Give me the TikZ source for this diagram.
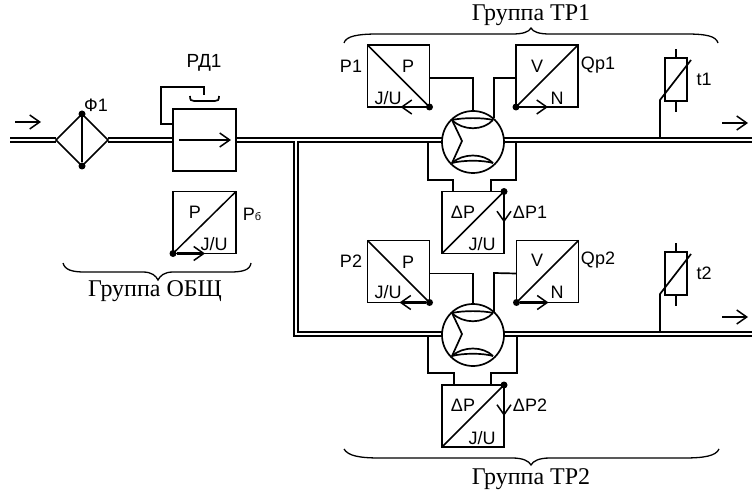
\documentclass[tikz,border=0pt]{standalone}
\usepackage{fontspec}
\setmainfont{Liberation Sans}
\newfontfamily\serifcyr{Liberation Serif}
\usetikzlibrary{arrows.meta,shapes.geometric,calc}
\tikzset{
 wire/.style={line width=1.7pt,line join=miter},
 pipe/.style={line width=2pt},
 unitbox/.style={draw,line width=1.7pt,minimum width=62pt,minimum height=62pt,inner sep=0pt,outer sep=0pt},
 diag/.style={line width=1.5pt},
 dotmark/.style={circle,fill=black,draw=none,minimum size=7pt,inner sep=0pt,outer sep=0pt},
 outarrow/.style={line width=2.2pt,-{Straight Barb[length=10pt,width=14pt,line width=1.5pt]}},
 flow/.style={line width=1.5pt,-{Straight Barb[length=10pt,width=14pt]}},
 lbl/.style={font=\fontsize{18}{18}\selectfont,inner sep=0pt,outer sep=0pt},
 grouplbl/.style={font=\serifcyr\fontsize{24}{24}\selectfont,inner sep=0pt,outer sep=0pt},
 brace/.style={line width=1.3pt},
 pumpc/.style={circle,draw,line width=1.7pt,minimum size=62pt,inner sep=0pt,outer sep=0pt},
 thermo/.style={draw,line width=1.7pt,minimum width=22pt,minimum height=43pt,inner sep=0pt,outer sep=0pt},
}
\newcommand{\pumpinner}[1]{%
 \draw[wire] ($(#1)+(-21,-22)$) -- ($(#1)+(-11,-1)$) -- ($(#1)+(-21,21)$);
 \draw[wire] ($(#1)+(-21,-22)$) .. controls ($(#1)+(-10,-24.5)$) and ($(#1)+(10,-24.5)$) .. ($(#1)+(20,-22)$);
 \draw[wire] ($(#1)+(-21,-22)$) .. controls ($(#1)+(-10,-11)$) and ($(#1)+(10,-11)$) .. ($(#1)+(20,-22)$);
 \draw[wire] ($(#1)+(-21,21)$) .. controls ($(#1)+(-10,11)$) and ($(#1)+(10,11)$) .. ($(#1)+(20,21)$);
 \draw[wire] ($(#1)+(-21,21)$) .. controls ($(#1)+(-10,18)$) and ($(#1)+(10,18)$) .. ($(#1)+(20,21)$);
}
\begin{document}
\begin{tikzpicture}[x=1pt,y=-1pt]
\useasboundingbox (0,0) rectangle (752,497);
\coordinate (inlet) at (10,140.5);
\coordinate (out1) at (752,140.5);
\coordinate (out2) at (752,334);
% filter
\node[diamond,draw,line width=1.7pt,minimum width=52pt,minimum height=52pt,inner sep=0pt,outer sep=0pt,aspect=1] (filt) at (82,140) {};
\node[dotmark] (filtt) at (filt.north) {};
\node[dotmark] (filtb) at (filt.south) {};
\draw[wire] (filtt) -- (filtb);
\node[lbl] (lf) at (96,105) {Ф1};
% valve
\node[unitbox,minimum width=63pt] (valve) at (204.5,140) {};
\draw[flow] ($(valve.west)+(6,0)$) -- ($(valve.east)+(-5,0)$);
\coordinate (rdtop) at (204,95);
\draw[wire] ([yshift=16]valve.west) -- ++(-12,0) |- (204,87) -- (rdtop);
\draw[wire] (190,96) .. controls (190,100) and (191,101) .. (194,101) -- (215,101) .. controls (218,101) and (219,100) .. (219,96);
\node[lbl,font=\fontsize{19}{19}\selectfont] (lrd) at (204,63) {РД1};
% sensor P_b
\node[unitbox,minimum width=63pt] (pb) at (204.5,222.5) {};
\draw[diag] (pb.south west) -- (pb.north east);
\node[dotmark] (pbd) at (pb.south west) {};
\draw[outarrow] (pbd) -- ++(32,0);
\node[lbl] at (195,212) {P};
\node[lbl] at (214,244) {J/U};
\node[lbl] (lpb) at (252,214) {P{\fontsize{11}{11}\selectfont б}};
% pumps
\node[pumpc] (pump1) at (473,142) {};
\node[pumpc] (pump2) at (473,335) {};
\pumpinner{pump1}
\pumpinner{pump2}
% pipes
\draw[pipe] (inlet) ++(0,-2) -- (filt.west |- 0,138.5);
\draw[pipe] (inlet) ++(0,2) -- (filt.west |- 0,142.5);
\draw[pipe] (filt.east |- 0,138.5) -- (valve.west |- 0,138.5);
\draw[pipe] (filt.east |- 0,142.5) -- (valve.west |- 0,142.5);
\draw[pipe] (valve.east |- 0,138.5) -- (pump1.west |- 0,138.5);
\draw[pipe] (valve.east |- 0,142.5) -- (294,142.5) -- (294,336) -- (pump2.west |- 0,336);
\draw[pipe] (pump1.west |- 0,142.5) -- (298,142.5) -- (298,332) -- (pump2.west |- 0,332);
\draw[pipe] (pump1.east |- 0,138.5) -- (out1 |- 0,138.5);
\draw[pipe] (pump1.east |- 0,142.5) -- (out1 |- 0,142.5);
\draw[pipe] (pump2.east |- 0,332) -- (out2 |- 0,332);
\draw[pipe] (pump2.east |- 0,336) -- (out2 |- 0,336);
% flow arrows
\draw[flow] (15,122) -- (41,122);
\draw[flow] (722,123) -- (748,123);
\draw[flow] (722,317) -- (748,317);
% group 1
\node[unitbox] (p1) at (398.5,76) {};
\draw[diag] (p1.north west) -- (p1.south east);
\node[dotmark] (p1d) at (p1.south east) {};
\draw[outarrow] (p1d) -- ++(-29,0);
\node[lbl] at (408,66) {P};
\node[lbl] at (388,98) {J/U};
\node[lbl] (lp1) at (351,66) {P1};
\node[unitbox] (v1) at (547,76) {};
\draw[diag] (v1.south west) -- (v1.north east);
\node[dotmark] (v1d) at (v1.south west) {};
\draw[outarrow] (v1d) -- ++(32,0);
\node[lbl] at (537,66) {V};
\node[lbl] at (557,98) {N};
\node[lbl] (lq1) at (598,65) {Qp1};
\draw[wire] ([yshift=-2]p1.east) -| (pump1.north);
\draw[wire] ([yshift=-2]v1.west) -- (494,78) -- (494,118);
\node[unitbox] (d1) at (473,222.5) {};
\draw[diag] (d1.south west) -- (d1.north east);
\node[dotmark] (d1d) at (d1.north east) {};
\draw[outarrow] (d1d) -- ++(0,31);
\node[lbl] at (463,212) {ΔP};
\node[lbl] at (482,244) {J/U};
\node[lbl] (ld1) at (530,212) {ΔP1};
\draw[wire] (428,143) -- (428,180) -- (453,180) -- (453,191.5);
\draw[wire] (516,143) -- (516,180) -- (491,180) -- (491,191.5);
% group 2
\node[unitbox] (p2) at (398.5,271.5) {};
\draw[diag] (p2.north west) -- (p2.south east);
\node[dotmark] (p2d) at (p2.south east) {};
\draw[outarrow] (p2d) -- ++(-30,0);
\node[lbl] at (408,262) {P};
\node[lbl] at (388,292) {J/U};
\node[lbl] (lp2) at (351,261) {P2};
\node[unitbox] (v2) at (547.5,271.5) {};
\draw[diag] (v2.south west) -- (v2.north east);
\node[dotmark] (v2d) at (v2.south west) {};
\draw[outarrow] (v2d) -- ++(32,0);
\node[lbl] at (537,260) {V};
\node[lbl] at (557,292) {N};
\node[lbl] (lq2) at (598,260) {Qp2};
\draw[wire] ([yshift=-2]p2.east) -| (pump2.north);
\draw[wire] ([yshift=-2]v2.west) -- (494,273) -- (494,312);
\node[unitbox] (d2) at (473,416) {};
\draw[diag] (d2.south west) -- (d2.north east);
\node[dotmark] (d2d) at (d2.north east) {};
\draw[outarrow] (d2d) -- ++(0,31);
\node[lbl] at (463,405) {ΔP};
\node[lbl] at (482,438) {J/U};
\node[lbl] (ld2) at (530,405) {ΔP2};
\draw[wire] (428,337) -- (428,373) -- (454,373) -- (454,385);
\draw[wire] (517,337) -- (517,373) -- (491,373) -- (491,385);
% thermometers
\node[thermo] (t1) at (676,79.5) {};
\draw[wire] (t1.north) -- ++(0,-9);
\draw[wire] (t1.south) -- ++(0,11);
\draw[wire] (660,139) -- (660,100) -- (691,60);
\node[lbl] (lt1) at (704,79) {t1};
\node[thermo] (t2) at (676,273.5) {};
\draw[wire] (t2.north) -- ++(0,-9);
\draw[wire] (t2.south) -- ++(0,11);
\draw[wire] (660,331) -- (660,294) -- (691,254);
\node[lbl] (lt2) at (704,273) {t2};
% braces
\draw[brace] (344,43) .. controls (346,36) and (358,34) .. (378,34) -- (512,34) .. controls (523,34) and (529,32) .. (531,28) .. controls (533,32) and (539,34) .. (550,34) -- (686,34) .. controls (706,34) and (716,36) .. (718,43);
\draw[brace] (344,449) .. controls (348,456) and (360,458) .. (380,458) -- (512,458) .. controls (523,458) and (529,461) .. (531,465) .. controls (533,461) and (539,458) .. (550,458) -- (684,458) .. controls (704,458) and (716,456) .. (719,449);
\draw[brace] (63,263) .. controls (65,270) and (72,272) .. (85,272) -- (143,272) .. controls (152,272) and (156,276) .. (158,280) .. controls (160,276) and (164,272) .. (173,272) -- (230,272) .. controls (243,272) and (250,270) .. (251,263);
\node[grouplbl] (g1) at (531,15) {Группа ТР1};
\node[grouplbl] (g2) at (531,479) {Группа ТР2};
\node[grouplbl] (g0) at (155,291) {Группа ОБЩ};
\end{tikzpicture}
\end{document}
